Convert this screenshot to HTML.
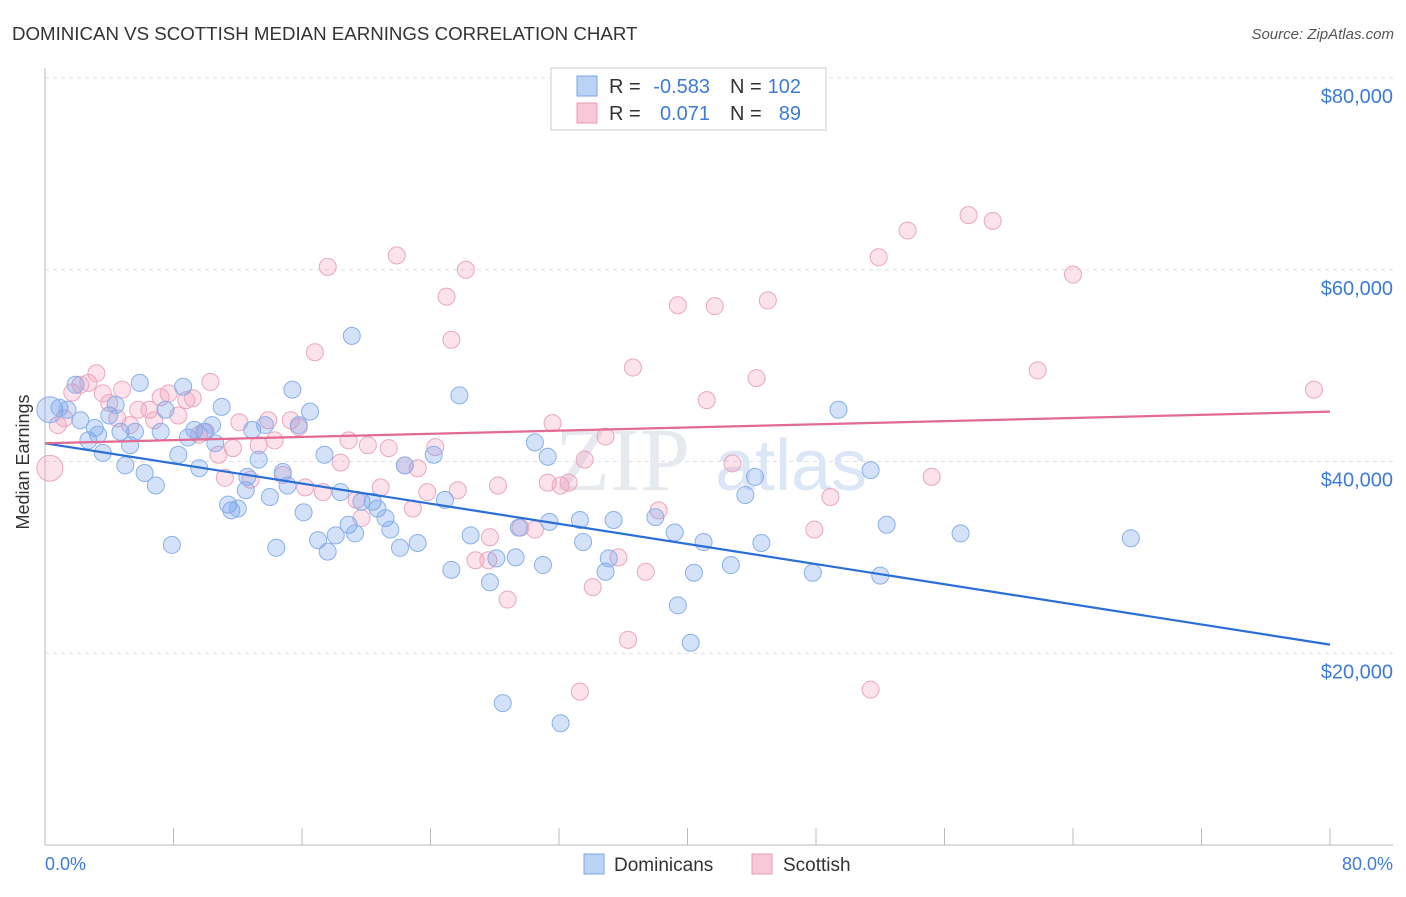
<!DOCTYPE html>
<html><head><meta charset="utf-8"><style>
body{margin:0;background:#fff;font-family:"Liberation Sans",sans-serif}
</style></head><body>
<svg width="1406" height="892" viewBox="0 0 1406 892" xmlns="http://www.w3.org/2000/svg">
<text x="12" y="40" font-size="18.7" fill="#333">DOMINICAN VS SCOTTISH MEDIAN EARNINGS CORRELATION CHART</text>
<text x="1394" y="39" font-size="15" fill="#555" text-anchor="end" font-style="italic">Source: ZipAtlas.com</text>
<g id="grid"></g>
<text x="690" y="490" font-size="90" fill="#e6e9ee" font-family="Liberation Serif" text-anchor="end">ZIP</text>
<text x="715" y="490" font-size="72" fill="#dbe6f6">atlas</text>
<g id="pts"></g><g id="lines"></g>
<text x="22" y="455" font-size="18" fill="#333" transform="rotate(-90 29 455)" text-anchor="middle">Median Earnings</text>
<text x="45" y="870" font-size="18" fill="#3d7bd9">0.0%</text>
<text x="1393" y="870" font-size="18" fill="#3d7bd9" text-anchor="end">80.0%</text>
<g>
<rect x="551" y="68" width="275" height="62" fill="#fff" stroke="#ccc"/>
<rect x="577" y="76" width="20" height="20" fill="#b9d2f5" stroke="#7aa6e8"/>
<rect x="577" y="103" width="20" height="20" fill="#f8c8d8" stroke="#e899b4"/>
<text x="609" y="93" font-size="20" fill="#333">R =</text>
<text x="710" y="93" font-size="20" fill="#3d7bd9" text-anchor="end">-0.583</text>
<text x="730" y="93" font-size="20" fill="#333">N =</text>
<text x="801" y="93" font-size="20" fill="#3d7bd9" text-anchor="end">102</text>
<text x="609" y="120" font-size="20" fill="#333">R =</text>
<text x="710" y="120" font-size="20" fill="#3d7bd9" text-anchor="end">0.071</text>
<text x="730" y="120" font-size="20" fill="#333">N =</text>
<text x="801" y="120" font-size="20" fill="#3d7bd9" text-anchor="end">89</text>
</g>
<g>
<rect x="584" y="854" width="20" height="20" fill="#b9d2f5" stroke="#7aa6e8"/>
<text x="614" y="871" font-size="19" fill="#333">Dominicans</text>
<rect x="752" y="854" width="20" height="20" fill="#f8c8d8" stroke="#e899b4"/>
<text x="783" y="871" font-size="19" fill="#333">Scottish</text>
</g>
</svg>
<script>
const yTicks=[20000,40000,60000,80000];
const yTickLabels=["$20,000","$40,000","$60,000","$80,000"];
const xTicks=[0,8,16,24,32,40,48,56,64,72,80];
const blueX=[0.3,0.9,1.4,1.9,2.2,2.7,3.1,3.3,3.6,4.0,4.4,4.7,5.0,5.3,5.6,5.9,6.2,6.9,7.2,7.5,7.9,8.3,8.6,8.9,9.3,9.6,9.9,10.4,10.6,11.0,11.4,11.6,12.0,12.5,12.6,12.9,13.3,13.7,14.0,14.4,14.8,15.1,15.4,15.8,16.1,16.5,17.0,17.4,17.6,18.1,18.4,18.9,19.1,19.3,19.7,20.4,20.7,21.2,21.5,22.1,22.4,23.2,24.2,24.9,25.3,25.8,26.5,27.7,28.1,28.5,29.3,29.5,30.5,31.0,31.3,31.4,32.1,33.3,33.5,34.9,35.1,35.4,38.0,39.2,39.4,40.2,40.4,41.0,42.7,43.6,44.2,44.6,47.8,49.4,51.4,52.0,52.4,57.0,67.6];
const blueY=[45.4,45.6,45.4,48.0,44.3,42.2,43.5,42.8,40.9,44.8,45.9,43.1,39.6,41.7,43.1,48.2,38.8,37.5,43.1,45.4,31.3,40.7,47.8,42.5,43.3,39.3,43.1,43.8,41.9,45.7,35.5,34.9,35.1,37.0,38.4,43.3,40.2,43.8,36.3,31.0,38.9,37.5,47.5,43.8,34.7,45.2,31.8,40.7,30.6,32.3,36.8,33.4,53.1,32.5,35.8,35.8,35.1,34.1,32.9,31.0,39.6,31.5,40.7,36.0,28.7,46.9,32.3,27.4,29.9,14.8,30.0,33.1,42.0,29.2,40.5,33.7,12.7,33.9,31.6,28.5,29.9,33.9,34.2,32.6,25.0,21.1,28.4,31.6,29.2,36.5,38.4,31.5,28.4,45.4,39.1,28.1,33.4,32.5,32.0];
const pinkX=[0.3,0.8,1.2,1.7,2.2,2.7,3.2,3.6,4.0,4.5,4.8,5.3,5.8,6.5,6.8,7.2,7.7,8.3,8.8,9.2,9.6,10.0,10.3,10.8,11.2,11.7,12.1,12.8,13.3,13.9,14.3,14.8,15.3,15.8,16.2,16.8,17.3,17.6,18.4,18.9,19.4,19.7,20.1,20.9,21.4,21.9,22.4,22.9,23.2,23.8,24.3,25.0,25.3,25.7,26.2,26.8,27.6,27.7,28.2,28.8,29.6,30.5,31.3,31.6,32.1,32.6,33.3,33.6,34.1,34.9,35.7,36.3,36.6,37.4,38.2,39.4,41.2,41.7,42.8,44.3,45.0,47.9,48.9,51.4,51.9,53.7,55.2,57.5,59.0,61.8,64.0,79.0];
const pinkY=[39.3,43.8,44.5,47.2,48.0,48.2,49.2,47.1,46.1,44.5,47.5,43.8,45.4,45.4,44.3,46.7,47.1,44.8,46.4,46.6,42.8,43.1,48.3,40.7,38.3,41.4,44.1,38.1,41.7,44.3,42.2,38.6,44.3,43.6,37.3,51.4,36.8,60.3,39.9,42.2,36.0,34.1,41.7,37.3,41.4,61.5,39.6,35.1,39.3,36.8,41.5,57.2,52.7,37.0,60.0,29.7,29.7,32.1,37.5,25.6,33.1,32.9,37.8,44.0,37.5,37.8,16.0,40.2,26.9,42.6,30.0,21.4,49.8,28.5,34.9,56.3,46.4,56.2,39.8,48.7,56.8,32.9,36.3,16.2,61.3,64.1,38.4,65.7,65.1,49.5,59.5,47.5];
const blueTrend=[41.9,20.9];
const pinkTrend=[41.9,45.2];
const X=v=>45+v/80*1285;
const Y=v=>845-v/20*191.75;
const NS='http://www.w3.org/2000/svg';
function mk(t,a,p){const e=document.createElementNS(NS,t);for(const k in a)e.setAttribute(k,a[k]);p.appendChild(e);return e;}
const g=document.getElementById('grid');
yTicks.forEach((t,i)=>{
 const l=mk('line',{x1:45,x2:1393,y1:Y(t/1000),y2:Y(t/1000),stroke:'#dde',"stroke-dasharray":'4 4'},g);
 
 
 const tx=mk('text',{x:1393,y:Y(t/1000)+25,"font-size":20,fill:'#3d7bd9',"text-anchor":'end'},g);
 tx.textContent=yTickLabels[i];
 
 
});
const ax=mk('line',{x1:45,x2:1393,y1:845,y2:845,stroke:'#bbb'},g);


const ay=mk('line',{x1:45,x2:45,y1:68,y2:845,stroke:'#bbb'},g);


xTicks.forEach(t=>{
 const l=mk('line',{x1:X(t),x2:X(t),y1:828,y2:845,stroke:'#bbb'},g);
 
 
});
const p=document.getElementById('pts');
function pts(xs,ys,fill,stroke,name){
 xs.forEach((x,i)=>{
  const c=mk('circle',{cx:X(x),cy:Y(ys[i]),r:i===0?13:8.5,fill:fill,stroke:stroke,"stroke-width":1},p);
  
  
 });
}
pts(pinkX,pinkY,'rgba(245,160,190,0.3)','#eaa6be','scottish-point');
pts(blueX,blueY,'rgba(110,160,235,0.3)','#89b0ea','dominican-point');
const L=document.getElementById('lines');
const bl=mk('line',{x1:X(0),x2:X(80),y1:Y(blueTrend[0]),y2:Y(blueTrend[1]),stroke:'#2a6fd6',"stroke-width":2.2},L);


const pl=mk('line',{x1:X(0),x2:X(80),y1:Y(pinkTrend[0]),y2:Y(pinkTrend[1]),stroke:'#e26a93',"stroke-width":2.2},L);


</script>
</body></html>
